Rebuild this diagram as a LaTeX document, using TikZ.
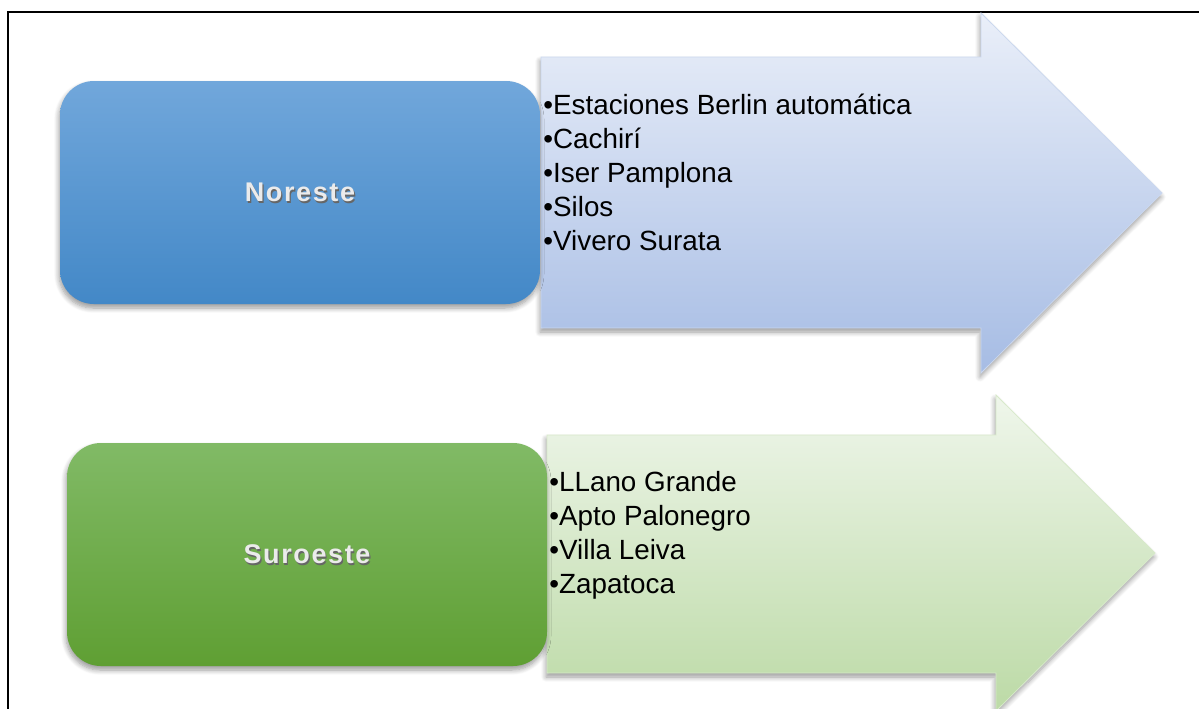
\documentclass[tikz,border=0pt]{standalone}
\usepackage{fontspec}
\setmainfont{Liberation Sans}
\usetikzlibrary{shadows,shadows.blur}

\definecolor{blueTop}{RGB}{113,167,219}
\definecolor{blueBot}{RGB}{67,136,199}
\definecolor{greenTop}{RGB}{129,186,102}
\definecolor{greenBot}{RGB}{95,159,51}
\definecolor{paleBlueTop}{RGB}{234,239,249}
\definecolor{paleBlueBot}{RGB}{166,188,228}
\definecolor{paleGreenTop}{RGB}{239,246,235}
\definecolor{paleGreenBot}{RGB}{188,218,166}

\newcommand{\embossed}[1]{\leavevmode\rlap{\raisebox{-0.7pt}[0pt][0pt]{\hspace{0.6pt}\textcolor{black!60}{#1}}}\textcolor{black!8}{#1}}

\begin{document}
\begin{tikzpicture}[x=0.5pt,y=-0.5pt,
    softshadow/.style={blur shadow={shadow xshift=-0.5pt, shadow yshift=-2pt,
        shadow blur radius=2.5pt, shadow blur steps=8, shadow opacity=40}},
    regbox/.style={rounded corners=17pt, minimum width=240pt, minimum height=111.5pt,
        inner sep=0pt, softshadow,
        font=\fontsize{13.5}{16}\selectfont\bfseries\addfontfeature{LetterSpace=6}},
    bigarrow/.style={draw=#1, line width=0.4pt, softshadow},
    listtext/.style={anchor=base west, align=left, inner sep=0pt,
        font=\fontsize{13.9}{16.9}\selectfont}]
    \clip (0,0) rectangle (1199,708);
    % Frame
    \draw[line width=0.8pt] (8,12) rectangle (1215,725);
    % Noreste (anchor sits on the last line)
    \path[bigarrow=paleBlueBot!60, top color=paleBlueTop, bottom color=paleBlueBot]
        (541,57) -- (981,57) -- (981,13) -- (1162,193) -- (981,373) -- (981,328) -- (541,328) -- cycle;
    \node[regbox, top color=blueTop, bottom color=blueBot] (noreste) at (300,192.5) {\embossed{Noreste}};
    \node[listtext] (norList) at (543,250) {•Estaciones Berlin automática\\•Cachirí\\•Iser Pamplona\\•Silos\\•Vivero Surata};
    % Suroeste
    \path[bigarrow=paleGreenBot!60, top color=paleGreenTop, bottom color=paleGreenBot]
        (547,435) -- (996,435) -- (996,395) -- (1155,553) -- (996,711) -- (996,673) -- (547,673) -- cycle;
    \node[regbox, top color=greenTop, bottom color=greenBot] (suroeste) at (307,554.5) {\embossed{Suroeste}};
    \node[listtext] (surList) at (549,593) {•LLano Grande\\•Apto Palonegro\\•Villa Leiva\\•Zapatoca};
\end{tikzpicture}
\end{document}
